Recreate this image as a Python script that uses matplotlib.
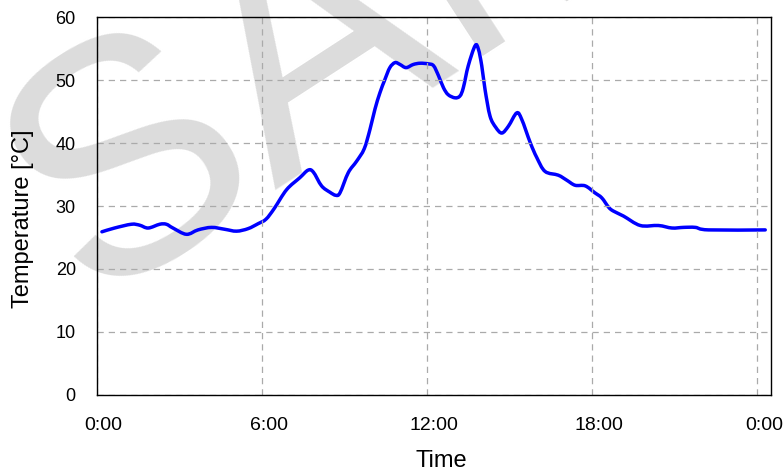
import matplotlib
matplotlib.use('Agg')
import numpy as np
import matplotlib.pyplot as plt
from matplotlib.path import Path
from matplotlib.patches import PathPatch

# temperature log over one day (hours since 0:00)
hours = [0.19, 0.65, 1.26, 1.56, 1.87, 2.29, 2.53, 2.77, 3.26, 3.68, 4.17, 4.65,
         5.08, 5.5, 5.87, 6.15, 6.45, 6.9, 7.38, 7.68, 7.87, 8.17, 8.47, 8.69,
         8.84, 9.14, 9.44, 9.72, 9.93, 10.11, 10.29, 10.47, 10.65, 10.84, 11.02,
         11.24, 11.5, 11.75, 12.05, 12.24, 12.42, 12.6, 12.77, 13.02, 13.2, 13.32,
         13.5, 13.75, 13.87, 13.99, 14.11, 14.29, 14.5, 14.72, 14.96, 15.26, 15.44,
         15.75, 15.99, 16.29, 16.77, 17.08, 17.38, 17.75, 18.1, 18.35, 18.6, 18.77,
         19.14, 19.75, 20.41, 20.9, 21.32, 21.75, 22.23, 24.29]
temps = [25.9, 26.5, 27.1, 26.95, 26.5, 27.1, 27.1, 26.5, 25.5, 26.2, 26.6, 26.3,
         26.0, 26.4, 27.2, 27.9, 29.6, 32.6, 34.5, 35.7, 35.4, 33.2, 32.2, 31.7,
         32.1, 35.3, 37.1, 39.1, 42.2, 45.4, 48.0, 50.1, 52.0, 52.8, 52.5,
         52.0, 52.5, 52.7, 52.6, 52.3, 50.7, 48.8, 47.7, 47.2, 47.5, 48.8,
         52.3, 55.5, 54.9, 52.3, 48.5, 44.3, 42.5, 41.6, 42.7, 44.8, 43.8,
         40.1, 37.7, 35.5, 34.9, 34.1, 33.3, 33.2, 32.1, 31.3, 29.8, 29.2,
         28.4, 26.9, 26.9, 26.5, 26.6, 26.6, 26.2, 26.2]

xticks = [0, 6, 12, 18, 24]
xlabels = ['0:00', '6:00', '12:00', '18:00', '0:00']
yticks = [0, 10, 20, 30, 40, 50, 60]


def smooth_path(x, y):
    # catmull-rom through the points, like a "smoothed line" in a spreadsheet
    pts = np.column_stack([x, y])
    n = len(pts)
    verts = [pts[0]]
    codes = [Path.MOVETO]
    for i in range(n - 1):
        p0 = pts[i - 1] if i > 0 else pts[i]
        p1 = pts[i]
        p2 = pts[i + 1]
        p3 = pts[i + 2] if i + 2 < n else pts[i + 1]
        verts += [p1 + (p2 - p0) / 6, p2 - (p3 - p1) / 6, p2]
        codes += [Path.CURVE4] * 3
    return Path(verts, codes)


narrow = ['Liberation Sans Narrow', 'Liberation Sans', 'DejaVu Sans']
plt.rcParams['font.family'] = ['Liberation Sans', 'DejaVu Sans']

W, H = 783, 472
fig = plt.figure(figsize=(W / 100, H / 100), dpi=100)
fig.patch.set_facecolor('white')

# watermark behind everything
fig.text(88 / W, 1 - 302 / H, 'SAMPLE', fontsize=238, color='#dcdcdc',
         rotation=33, rotation_mode='anchor', ha='left', va='baseline',
         zorder=-1)

ax = fig.add_axes([0.1235, 0.1638, 0.9847 - 0.1235, 0.9633 - 0.1638])
ax.patch.set_alpha(0)

ax.add_patch(PathPatch(smooth_path(hours, temps), fill=False,
                       edgecolor='#0000ff', lw=2.5, capstyle='round',
                       joinstyle='round'))

ax.set_xlim(0, 24.5)
ax.set_ylim(0, 60)
ax.set_xticks(xticks)
ax.set_xticklabels(xlabels, fontfamily=narrow, fontsize=14)
ax.set_yticks(yticks)
ax.tick_params(axis='both', length=0, colors='black')
ax.tick_params(axis='y', labelsize=13, pad=15)
ax.tick_params(axis='x', pad=16)

# the x labels sit a little right of their grid lines
for lab in ax.get_xticklabels():
    lab.set_transform(lab.get_transform() +
                      matplotlib.transforms.ScaledTranslation(0.07, 0, fig.dpi_scale_trans))

ax.grid(True, linestyle=(0, (5, 4)), color='#aaaaaa', lw=0.9)
for s in ax.spines.values():
    s.set_color('black')
    s.set_linewidth(1.0)

fig.text(23 / W, 1 - 219 / H, 'Temperature [°C]', fontsize=17, rotation=90,
         ha='center', va='center')
fig.text(441 / W, 1 - 461 / H, 'Time', fontsize=17, fontfamily=narrow,
         ha='center', va='center')

fig.savefig('out.png', dpi=100)
